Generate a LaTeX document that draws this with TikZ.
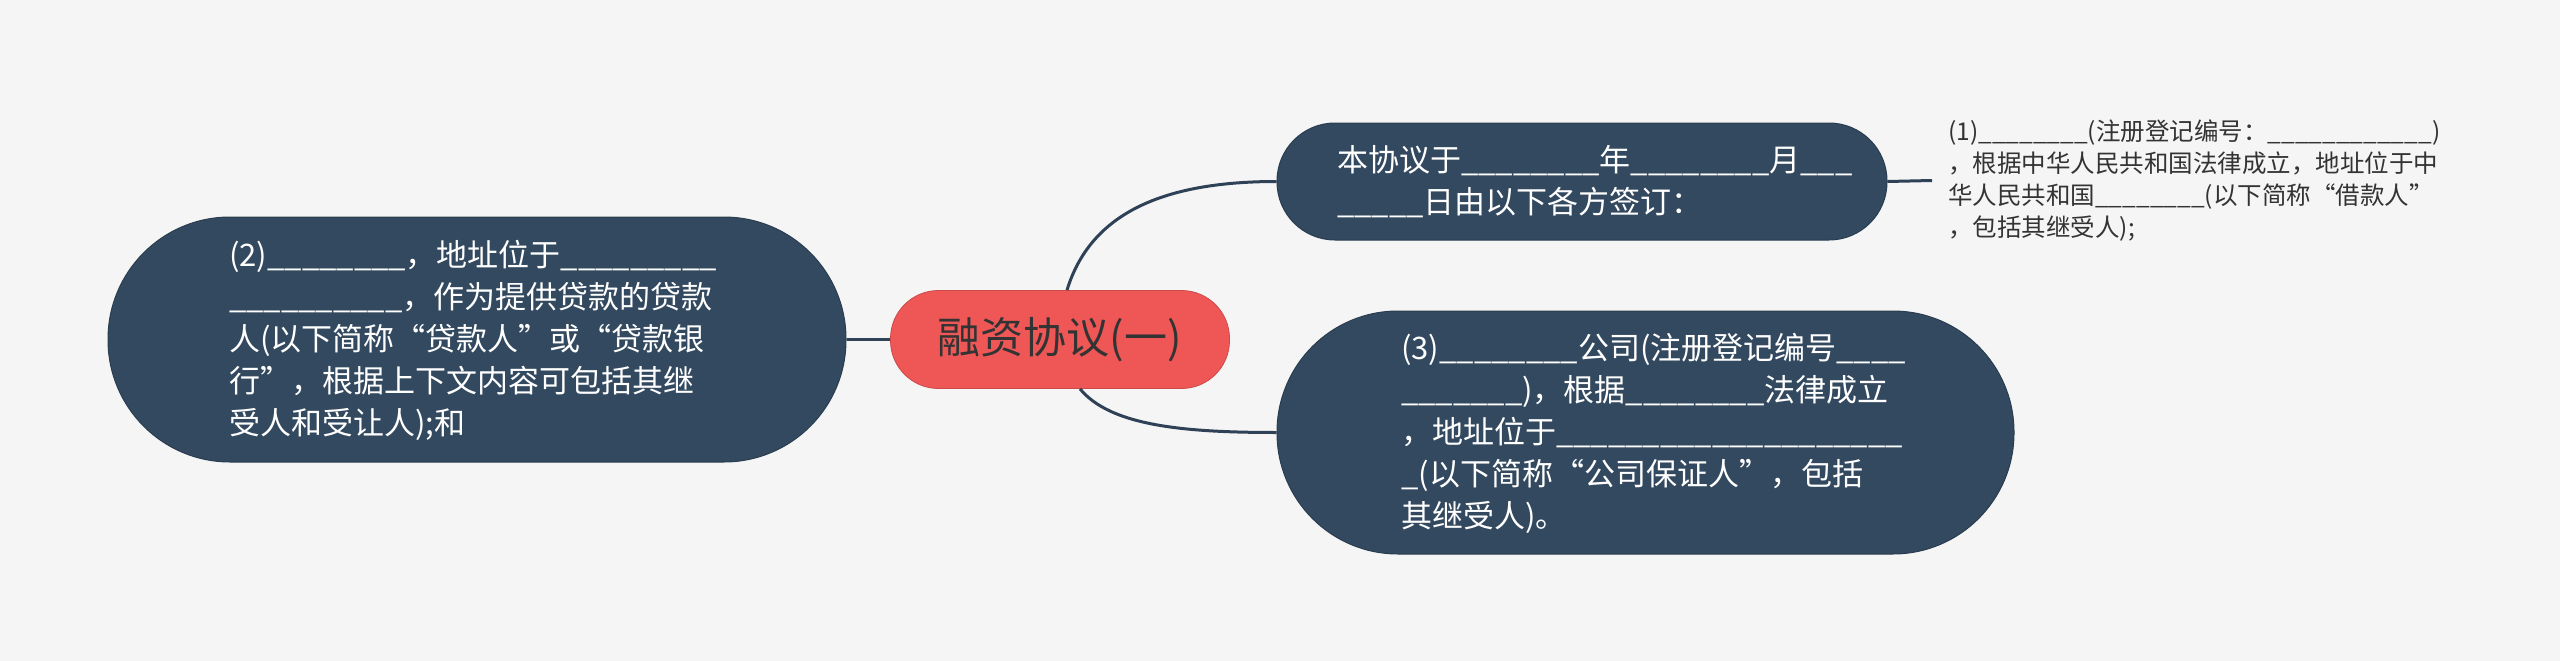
\documentclass[tikz,border=0pt]{standalone}
\usepackage{fontspec}
\setmainfont{Noto Sans CJK SC}
\usetikzlibrary{calc}
\definecolor{bg}{HTML}{F5F5F5}
\definecolor{navy}{HTML}{33495F}
\definecolor{navyline}{HTML}{2A3D50}
\definecolor{coral}{HTML}{EF5757}
\definecolor{edgec}{HTML}{2E4156}
\definecolor{ink}{HTML}{333333}
\begin{document}
\begin{tikzpicture}[x=1pt,y=-1pt,
  pill/.style={fill=navy, draw=navyline, line width=1pt, inner sep=0pt},
  rootbox/.style={fill=coral, draw=coral!85!black, line width=0.8pt, inner sep=0pt,
    text=ink, font=\fontsize{43}{50}\selectfont},
  whitetxt/.style={text=white, align=left, inner sep=0pt, font=\fontsize{31}{42}\selectfont},
  leaftxt/.style={text=ink, align=left, inner ysep=0pt, inner xsep=16pt, font=\fontsize{24.5}{32}\selectfont},
  conn/.style={draw=edgec, line width=3pt}]
\fill[bg] (0,0) rectangle (2560,661);
\useasboundingbox (0,0) rectangle (2560,661);

\node[rootbox, minimum width=339pt, minimum height=98pt, rounded corners=48pt] (c) at (1060,339.5) {融资协议(一)};

\node[pill, minimum width=610pt, minimum height=117pt, rounded corners=58pt] (top) at (1582,181.5) {};
\node[whitetxt, anchor=west] (topT) at (1337,182) {本协议于\_\_\_\_\_\_\_\_年\_\_\_\_\_\_\_\_月\_\_\_\\\_\_\_\_\_日由以下各方签订：};

\node[pill, minimum width=738pt, minimum height=245pt, rounded corners=122pt] (left) at (477,339.5) {};
\node[whitetxt, anchor=west] (leftT) at (229,340) {(2)\_\_\_\_\_\_\_\_，地址位于\_\_\_\_\_\_\_\_\_\\\_\_\_\_\_\_\_\_\_\_，作为提供贷款的贷款\\人(以下简称“贷款人”或“贷款银\\行”，根据上下文内容可包括其继\\受人和受让人);和};

\node[pill, minimum width=737pt, minimum height=243pt, rounded corners=121pt] (bot) at (1645.5,432.5) {};
\node[whitetxt, anchor=west] (botT) at (1401,433) {(3)\_\_\_\_\_\_\_\_公司(注册登记编号\_\_\_\_\\\_\_\_\_\_\_\_)，根据\_\_\_\_\_\_\_\_法律成立\\，地址位于\_\_\_\_\_\_\_\_\_\_\_\_\_\_\_\_\_\_\_\_\\\_(以下简称“公司保证人”，包括\\其继受人)。};

\node[leaftxt, anchor=west] (leaf) at (1932,180.5) {(1)\_\_\_\_\_\_\_\_(注册登记编号：\_\_\_\_\_\_\_\_\_\_\_\_)\\，根据中华人民共和国法律成立，地址位于中\\华人民共和国\_\_\_\_\_\_\_\_(以下简称“借款人”\\，包括其继受人);};

\draw[conn] (left.east) -- (c.west);
\draw[conn] ([xshift=7pt]c.north) .. controls (1090,215) and (1160,181.5) .. (top.west);
\draw[conn] ([xshift=20pt]c.south) .. controls (1110,425) and (1180,432.5) .. (bot.west);
\draw[conn] (top.east) -- (leaf.west);
\end{tikzpicture}
\end{document}
